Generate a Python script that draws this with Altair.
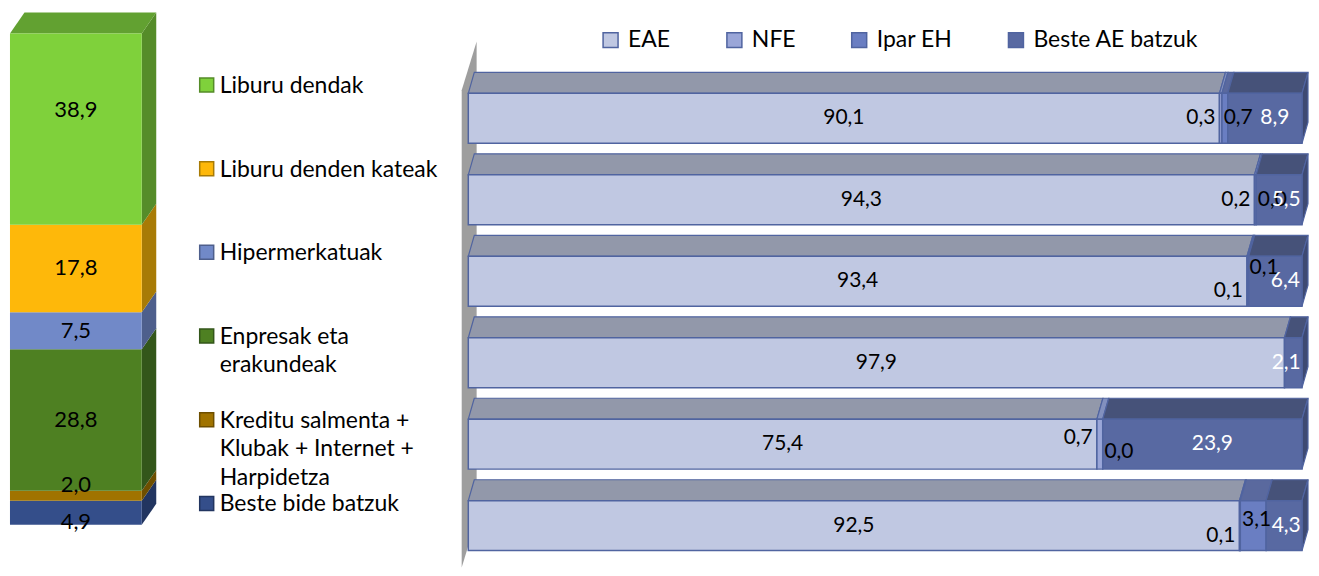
import altair as alt
import pandas as pd

# ---------------- data ----------------
# left: sales channels (stacked 3D column, top to bottom)
channels = ["Liburu dendak", "Liburu denden kateak", "Hipermerkatuak",
            "Enpresak eta\nerakundeak",
            "Kreditu salmenta +\nKlubak + Internet +\nHarpidetza",
            "Beste bide batzuk"]
channel_shares = [38.9, 17.8, 7.5, 28.8, 2.0, 4.9]
channel_front = ["#7FD13B", "#FEB80A", "#7189C8", "#4E8022", "#A07300", "#344E8A"]
channel_side = ["#558C29", "#A87B06", "#4E5F8C", "#33561A", "#6E4F00", "#223560"]
channel_top = "#62A131"
channel_label_nudge_px = [-19, -1, 0, 0, -11, 9]   # data-label offsets (style)

# right: destination shares per row (stacked 3D bars, top to bottom)
series = ["EAE", "NFE", "Ipar EH", "Beste AE batzuk"]
eae = [90.1, 94.3, 93.4, 97.9, 75.4, 92.5]
nfe = [0.3, 0.2, 0.1, None, 0.7, 0.1]
ipar_eh = [0.7, 0.0, 0.1, None, 0.0, 3.1]
beste_ae = [8.9, 5.5, 6.4, 2.1, 23.9, 4.3]
series_front = ["#C0C8E2", "#9AA6D8", "#6A7EC2", "#5869A2"]
series_top = ["#9298AA", "#8290BE", "#5A699E", "#465279"]
side_color = "#3E4A72"
edge_color = "#5064A0"
nfe_label_nudge_px = [0, 0, 10, 0, -6, 10]        # data-label offsets (style)
ipar_label_nudge_px = [0, 0, -13, 0, 8, -6]

FONT = "Lato"


def fmt(v):
    return f"{v:.1f}".replace(".", ",")


def qscale(domain, reverse=False):
    return alt.Scale(domain=domain, nice=False, zero=False, reverse=reverse)


# ---------------- layout constants ----------------
PANEL_H = 560
LEFT_W, LEG_W, RIGHT_W = 182, 265, 856

# left column scales
L_XS = qscale([-0.015, 1.364])
L_YS = qscale([-8.7, 105.0])
L_PX = PANEL_H / (105.0 + 8.7)
L_DX, L_DY = 0.11, 4.26

# right bars scales
R_XS = qscale([-1.677, 100.84])
R_YS = qscale([-1.0417, 5.821], reverse=True)
R_PX = PANEL_H / (5.821 + 1.0417)
R_T = 0.6127          # front face thickness (row units)
R_DX, R_DY = 0.719, 0.257

# ---------------- left column ----------------
rows, sides = [], []
cum = 0.0
for k in reversed(range(len(channels))):
    y0, y1 = cum, cum + channel_shares[k]
    cum = y1
    rows.append(dict(seg=k, y0=y0, y1=y1,
                     ly=(y0 + y1) / 2 - channel_label_nudge_px[k] / L_PX,
                     label=fmt(channel_shares[k]), front=channel_front[k]))
    sides.append(dict(seg=k, x=1.0, ya=y1, yb=y0, col=channel_side[k]))
    sides.append(dict(seg=k, x=1.0 + L_DX, ya=y1 + L_DY, yb=y0 + L_DY, col=channel_side[k]))
total = cum
left_df = pd.DataFrame(rows)
side_df = pd.DataFrame(sides)
top_df = pd.DataFrame([dict(y=total, xa=0.0, xb=1.0, col=channel_top),
                       dict(y=total + L_DY, xa=L_DX, xb=1.0 + L_DX, col=channel_top)])

l_front = alt.Chart(left_df).mark_rect().encode(
    x=alt.X(datum=0, scale=L_XS, axis=None),
    x2=alt.X2(datum=1),
    y=alt.Y("y0:Q", scale=L_YS, axis=None),
    y2="y1:Q",
    color=alt.Color("front:N", scale=None),
)
l_side = alt.Chart(side_df).mark_area(orient="vertical").encode(
    x=alt.X("x:Q", scale=L_XS, axis=None),
    y=alt.Y("ya:Q", scale=L_YS, axis=None),
    y2="yb:Q",
    color=alt.Color("col:N", scale=None),
    detail="seg:N",
)
l_top = alt.Chart(top_df).mark_area(orient="horizontal").encode(
    y=alt.Y("y:Q", scale=L_YS, axis=None),
    x=alt.X("xa:Q", scale=L_XS, axis=None),
    x2="xb:Q",
    color=alt.Color("col:N", scale=None),
)
l_text = alt.Chart(left_df).mark_text(fontSize=22, font=FONT, color="black", baseline="middle").encode(
    x=alt.X(datum=0.5, scale=L_XS, axis=None),
    y=alt.Y("ly:Q", scale=L_YS, axis=None),
    text="label:N",
)
left = alt.layer(l_side, l_top, l_front, l_text).properties(width=LEFT_W, height=PANEL_H)

# ---------------- left legend (manual) ----------------
leg_df = pd.DataFrame(dict(k=list(range(len(channels))), name=channels,
                           front=channel_front, side=channel_side))
LEG_YS = qscale([-0.915, 5.767], reverse=True)
leg_sq = alt.Chart(leg_df).mark_square(size=196, opacity=1, strokeWidth=1.5).encode(
    x=alt.value(17),
    y=alt.Y("k:Q", scale=LEG_YS, axis=None),
    color=alt.Color("front:N", scale=None),
    stroke=alt.Stroke("side:N", scale=None),
)
leg_tx = alt.Chart(leg_df).mark_text(align="left", baseline="top", dy=-10, lineBreak="\n",
                                     lineHeight=28.5, fontSize=23, font=FONT,
                                     color="black").encode(
    x=alt.value(30),
    y=alt.Y("k:Q", scale=LEG_YS, axis=None),
    text="name:N",
)
legend_panel = alt.layer(leg_sq, leg_tx).properties(width=LEG_W, height=PANEL_H)

# ---------------- right bars ----------------
recs, tops, rsides = [], [], []
for i in range(len(eae)):
    start = 0.0
    for s, vals, ftop in zip(series, [eae, nfe, ipar_eh, beste_ae], series_top):
        v = vals[i]
        w = v if v is not None else 0.0
        end = start + w
        nudge = 0
        if s == "EAE":
            lx = (start + end) / 2
        elif s == "NFE":
            lx = start - 0.5
            nudge = nfe_label_nudge_px[i]
        elif s == "Ipar EH":
            lx = start + 0.2
            nudge = ipar_label_nudge_px[i]
        else:
            lx = min((start + end) / 2 + 1.2, end - 1.9)
        recs.append(dict(row=i, series=s, start=start, end=end, width=w,
                         label=fmt(v) if v is not None else "",
                         lx=lx, ly=i + R_T / 2 + nudge / R_PX, ytop=i, ybot=i + R_T))
        if w > 0:
            key = f"{i}-{s}"
            tops.append(dict(key=key, y=i, xa=start, xb=end, col=ftop))
            tops.append(dict(key=key, y=i - R_DY, xa=start + R_DX, xb=end + R_DX, col=ftop))
        start = end
    rsides.append(dict(row=i, x=start, ya=i, yb=i + R_T))
    rsides.append(dict(row=i, x=start + R_DX, ya=i - R_DY, yb=i + R_T - R_DY))

bar_df = pd.DataFrame(recs)
rtop_df = pd.DataFrame(tops)
rside_df = pd.DataFrame(rsides)
wall_df = pd.DataFrame([dict(x=-0.79, ya=-0.037, yb=5.82),
                        dict(x=1.0, ya=-0.637, yb=5.22)])

r_wall = alt.Chart(wall_df).mark_area(orient="vertical", color="#9E9E9E").encode(
    x=alt.X("x:Q", scale=R_XS, axis=None),
    y=alt.Y("ya:Q", scale=R_YS, axis=None),
    y2="yb:Q",
)
r_top = alt.Chart(rtop_df).mark_area(orient="horizontal", stroke=edge_color, strokeWidth=1.2).encode(
    y=alt.Y("y:Q", scale=R_YS, axis=None),
    x=alt.X("xa:Q", scale=R_XS, axis=None),
    x2="xb:Q",
    color=alt.Color("col:N", scale=None),
    detail="key:N",
)
r_side = alt.Chart(rside_df).mark_area(orient="vertical", color=side_color,
                                       stroke=edge_color, strokeWidth=1.2).encode(
    x=alt.X("x:Q", scale=R_XS, axis=None),
    y=alt.Y("ya:Q", scale=R_YS, axis=None),
    y2="yb:Q",
    detail="row:N",
)
r_front = alt.Chart(bar_df).transform_filter("datum.width > 0").mark_rect(
    stroke=edge_color, strokeWidth=1.5, opacity=1).encode(
    x=alt.X("start:Q", scale=R_XS, axis=None),
    x2="end:Q",
    y=alt.Y("ytop:Q", scale=R_YS, axis=None),
    y2="ybot:Q",
    color=alt.Color("series:N", sort=series,
                    scale=alt.Scale(domain=series, range=series_front),
                    legend=alt.Legend(orient="none", legendX=145, legendY=20,
                                      direction="horizontal", columns=4, title=None,
                                      symbolType="square", symbolSize=225,
                                      symbolStrokeColor="#4A5B93", symbolStrokeWidth=1.5,
                                      symbolOpacity=1, labelLimit=300,
                                      labelFontSize=23, labelFont=FONT, labelColor="black",
                                      labelOffset=6, columnPadding=52, padding=0)),
)


def label_layer(name, align, color):
    return alt.Chart(bar_df).transform_filter(
        f"datum.series == '{name}' && datum.label != ''"
    ).mark_text(align=align, baseline="middle", fontSize=21, font=FONT, color=color).encode(
        x=alt.X("lx:Q", scale=R_XS, axis=None),
        y=alt.Y("ly:Q", scale=R_YS, axis=None),
        text="label:N",
    )


right = alt.layer(
    r_wall, r_top, r_side, r_front,
    label_layer("EAE", "center", "black"),
    label_layer("NFE", "right", "black"),
    label_layer("Ipar EH", "left", "black"),
    label_layer("Beste AE batzuk", "center", "white"),
).properties(width=RIGHT_W, height=PANEL_H)

chart = alt.hconcat(left, legend_panel, right, spacing=0).resolve_scale(
    x="independent", y="independent", color="independent", stroke="independent"
).properties(padding=0, bounds="flush").configure_view(stroke=None)

chart.save("out.html", embed_options={"renderer": "svg", "actions": False})
